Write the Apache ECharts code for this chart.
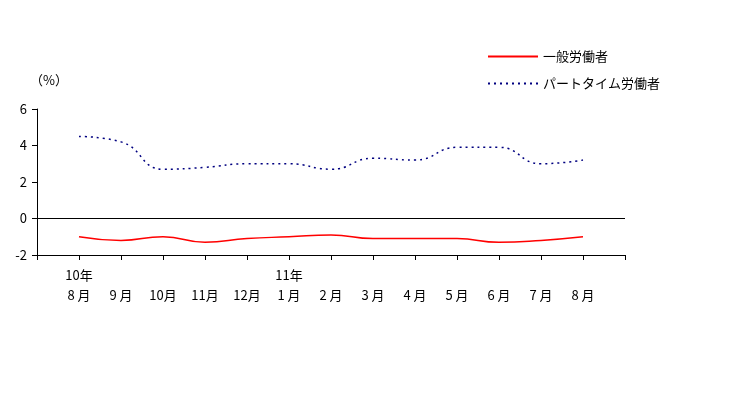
<!DOCTYPE html>
<html><head><meta charset="utf-8">
<script src="https://cdn.jsdelivr.net/npm/echarts@6/dist/echarts.min.js"></script>
<style>html,body{margin:0;padding:0;background:#fff}#c{width:744px;height:403px}</style>
</head><body><div id="c"></div>
<script>
const categories = ['', '10年\n8 月', ' \n9 月', ' \n10月', ' \n11月', ' \n12月', '11年\n1 月', ' \n2 月', ' \n3 月', ' \n4 月', ' \n5 月', ' \n6 月', ' \n7 月', ' \n8 月', ''];
const general = [null, -1.0, -1.2, -1.0, -1.3, -1.1, -1.0, -0.9, -1.1, -1.1, -1.1, -1.3, -1.2, -1.0, null];
const partTime = [null, 4.5, 4.2, 2.7, 2.8, 3.0, 3.0, 2.7, 3.3, 3.2, 3.9, 3.9, 3.0, 3.2, null];
const yTicks = { min: -2, max: 6, interval: 2 };
const FONT = 'Noto Sans CJK JP';

const chart = echarts.init(document.getElementById('c'));
chart.setOption({
  animation: false,
  backgroundColor: '#fff',
  grid: { left: 37, right: 119, top: 109, bottom: 148, containLabel: false },
  legend: {
    orient: 'vertical', left: 482, top: 45, itemWidth: 50, itemHeight: 12, itemGap: 14,
    itemStyle: { opacity: 0 },
    textStyle: { fontFamily: FONT, fontSize: 13, color: '#000' },
    data: ['一般労働者', 'パートタイム労働者']
  },
  graphic: [{ type: 'text', left: 30, top: 74, style: { text: '（%）', fontFamily: FONT, fontSize: 13, fill: '#000' } }],
  xAxis: {
    type: 'category', boundaryGap: false, data: categories,
    axisLine: { onZero: false, lineStyle: { color: '#000', width: 1 } },
    axisTick: { show: true, length: 5, inside: false, interval: 0, lineStyle: { color: '#000' } },
    axisLabel: { interval: 0, margin: 10, lineHeight: 20, fontFamily: FONT, fontSize: 13, color: '#000' },
    splitLine: { show: false }
  },
  yAxis: {
    type: 'value', min: yTicks.min, max: yTicks.max, interval: yTicks.interval,
    axisLine: { show: true, lineStyle: { color: '#000', width: 1 } },
    axisTick: { show: true, length: 5, lineStyle: { color: '#000' } },
    axisLabel: { margin: 10, fontFamily: FONT, fontSize: 13, color: '#000' },
    splitLine: { show: false }
  },
  series: [
    {
      name: '一般労働者', type: 'line', data: general, smooth: true, symbol: 'none',
      lineStyle: { color: '#ff0000', width: 1.5 }, itemStyle: { color: '#ff0000' },
      markLine: { silent: true, symbol: 'none', label: { show: false },
        lineStyle: { color: '#000', type: 'solid', width: 1 }, data: [{ yAxis: 0 }] }
    },
    {
      name: 'パートタイム労働者', type: 'line', data: partTime, smooth: true, symbol: 'none',
      lineStyle: { color: '#000080', width: 1.5, type: [2, 4] }, itemStyle: { color: '#000080' }
    }
  ]
});
</script></body></html>
